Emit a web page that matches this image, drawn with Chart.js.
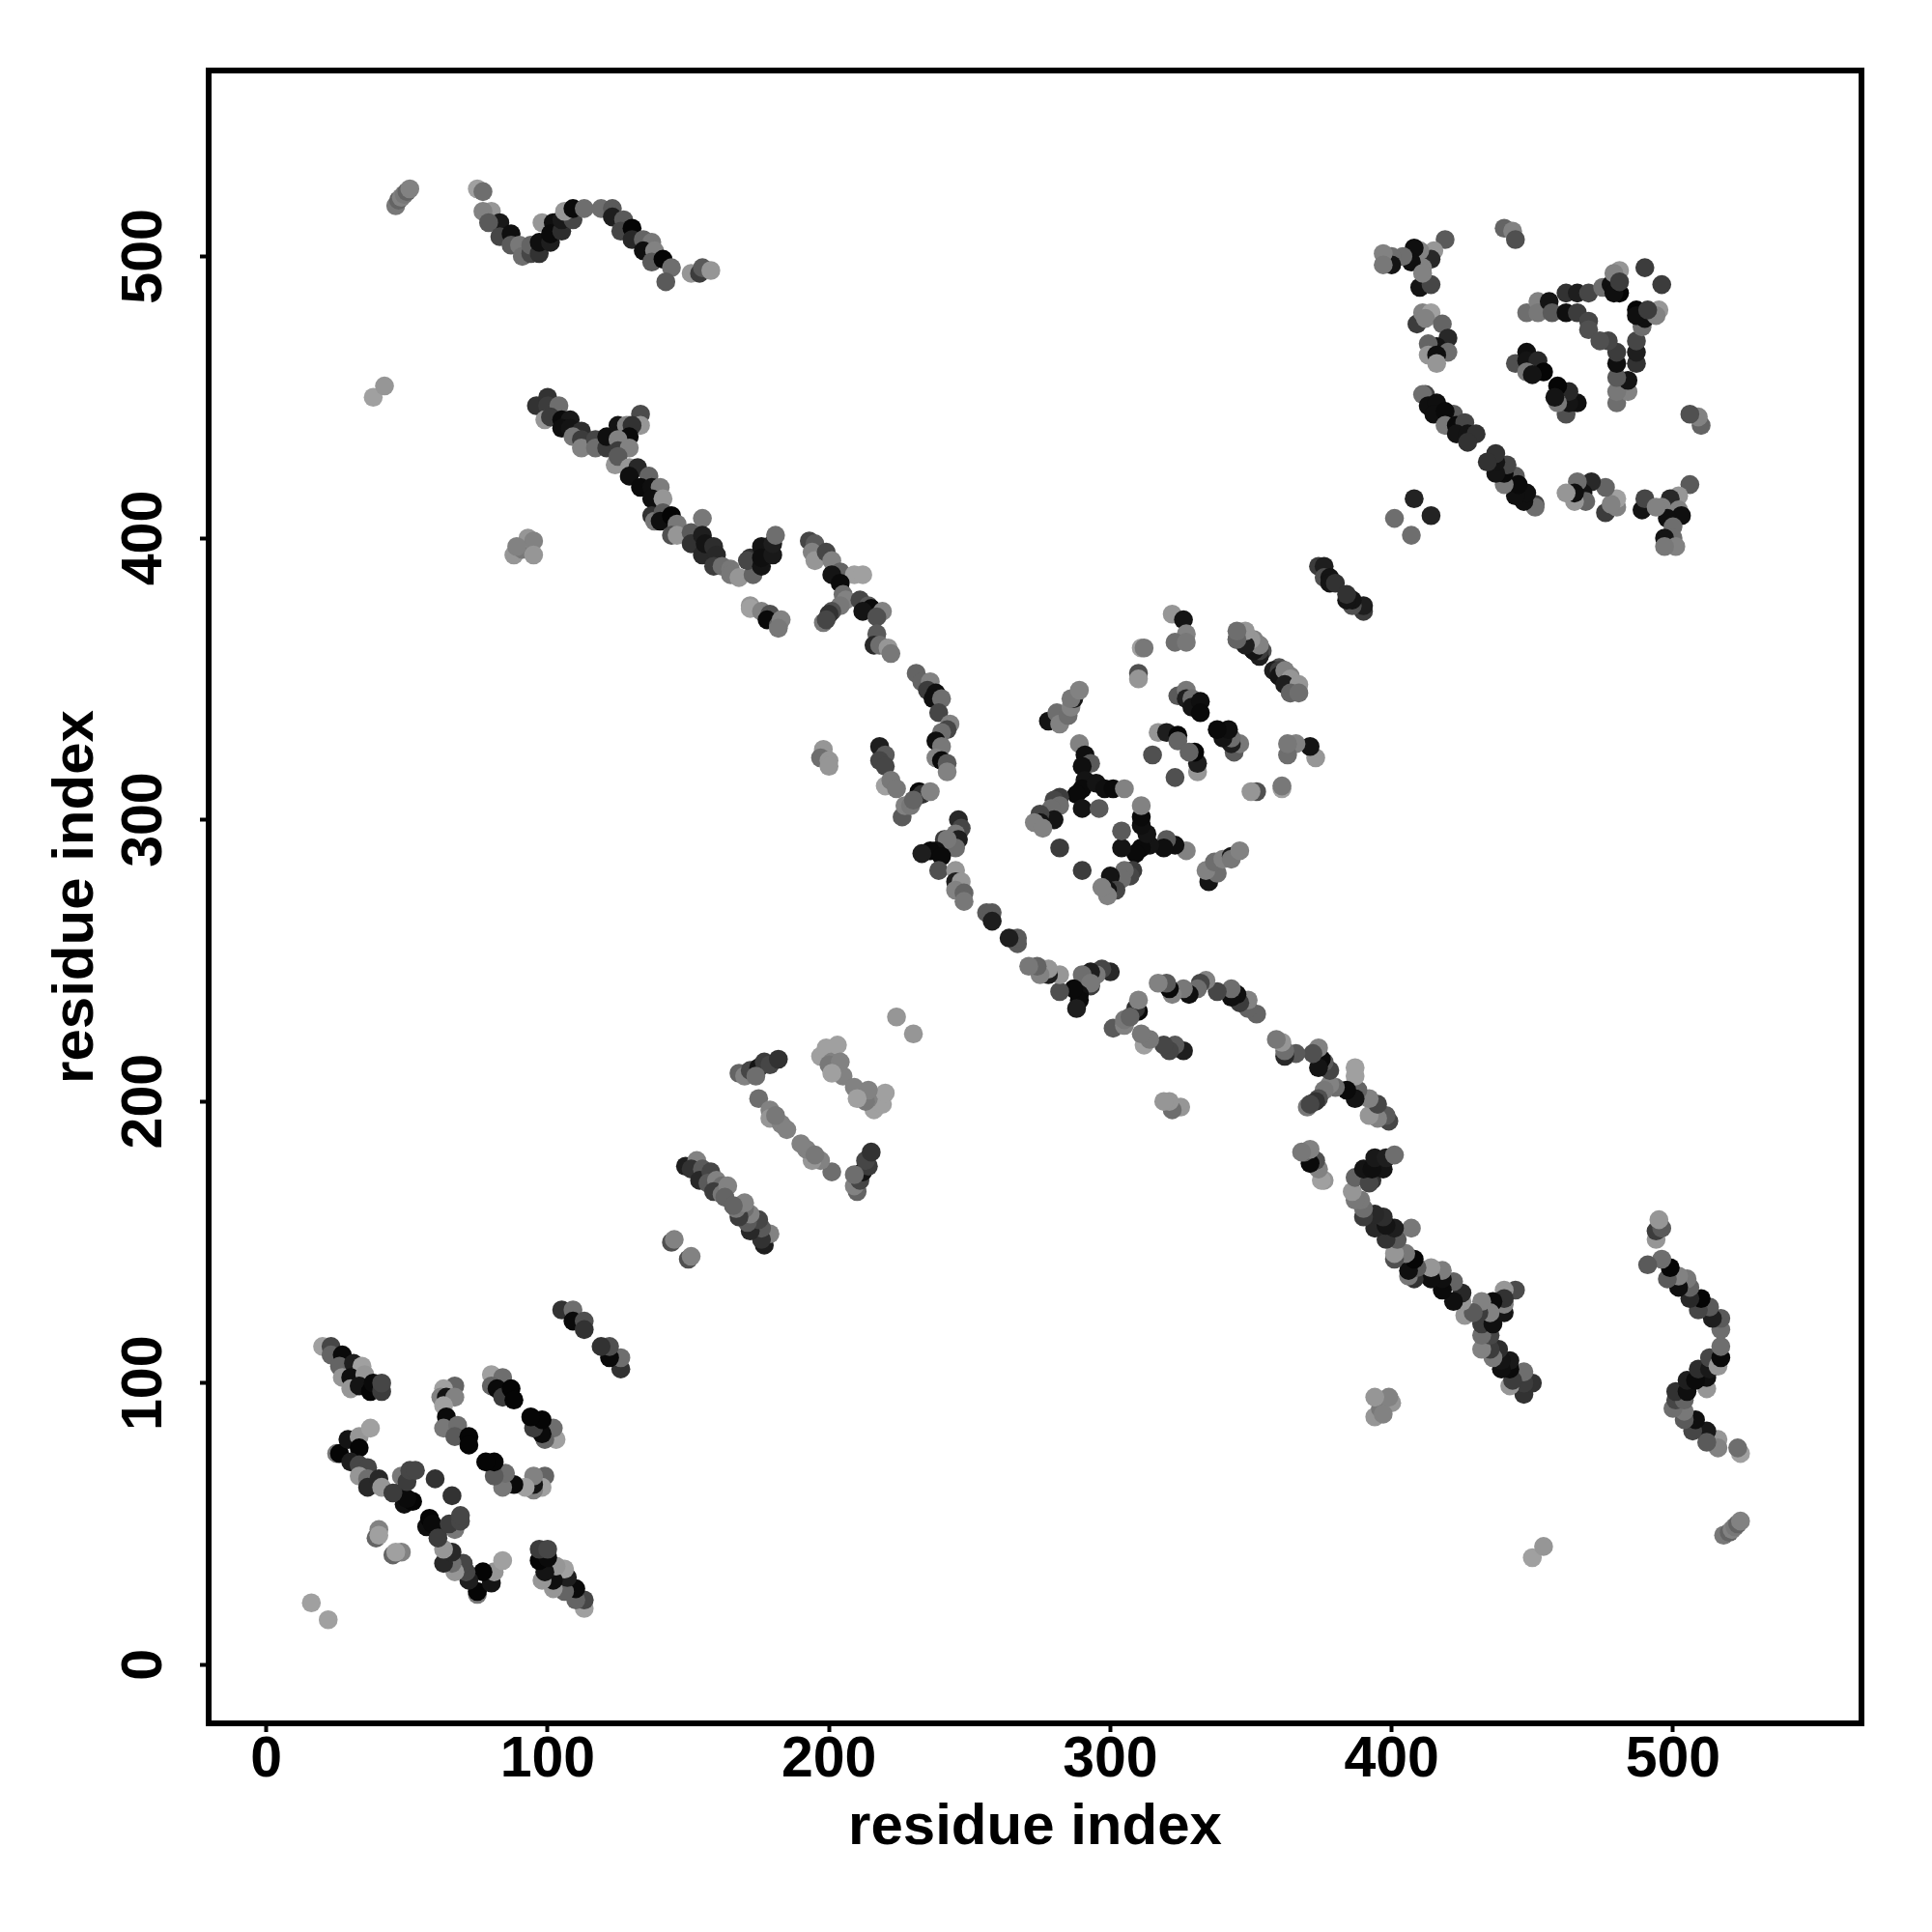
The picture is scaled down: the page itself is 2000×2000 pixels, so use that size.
<!DOCTYPE html>
<html>
<head>
<meta charset="utf-8">
<title>residue contacts</title>
<script src="https://cdn.jsdelivr.net/npm/chart.js@4"></script>
<style>
  html, body { margin: 0; padding: 0; background: #fff; }
  canvas { display: block; }
</style>
</head>
<body>
<canvas id="contactMap" width="2000" height="2000"></canvas>
<script>
// contacts, only the i < j half, the map is symmetric
// one line per patch, the three lists line up
const contactI = [
  16, 38, 42, 224,
  20, 23, 23, 27, 26, 27, 31, 34, 30, 30, 35, 33, 37, 38, 41, 41,
  67, 63, 62, 64, 67, 63, 64, 63, 68, 67, 72, 72,
  80, 84, 80, 82, 84, 87, 88,
  25, 26, 29, 33, 37, 33, 30, 33, 36, 33, 36, 36, 40, 41, 47, 49, 52, 50, 45, 48, 50, 51, 53, 60, 40, 39, 40,
  105, 109, 109, 113, 113, 144, 145,
  149, 153, 151, 155, 154, 158, 157, 160, 162, 159, 162, 164, 163,
  168, 170, 172, 175, 177, 179, 182, 174,
  175, 179, 179, 183, 185, 181,
  197, 199, 201, 203, 200, 203, 205, 204, 201,
  88, 91, 93, 95, 95, 89,
  46, 47, 48, 49, 50, 51,
  75, 77, 80, 77, 83, 79, 83, 87, 87, 90, 91, 94, 94, 97, 97, 101, 98, 102, 101, 105, 105, 109, 106, 109, 113,
  119, 123, 123, 127, 126, 130, 130, 134, 137, 134, 138, 137, 141, 144, 142, 151, 154, 155, 158,
  96, 100, 100, 104, 99, 101, 105, 108, 105, 108, 112, 109, 112, 112, 117, 117, 121, 121, 125, 128, 129, 133, 133, 130, 129, 125, 125, 129,
  124, 125, 129, 132, 129, 136, 133, 137, 140, 137, 141, 137, 138, 141, 140, 144, 146, 144, 146,
  151, 151, 155, 155, 155, 156, 159, 160, 159, 162, 165, 165, 168, 173, 172, 171, 176, 176, 176, 180, 180, 181,
  172, 172, 176, 179, 178, 182, 183, 182,
  193, 195, 194, 195, 199, 201, 204, 209, 212, 201, 204, 205, 206, 204, 201, 200, 198, 199, 211, 214, 215, 212, 219, 217, 217, 216, 218, 221, 222,
  231, 233, 236, 235, 238, 237, 240, 239, 243, 242, 240, 238, 240, 238, 240, 242, 242,
  218, 220, 218, 220, 220, 222, 224, 226, 227, 229, 232, 233, 236, 230,
  246, 247, 245, 246, 245, 241, 242, 238, 236, 233, 240, 239, 245, 245, 247, 245, 248, 248,
  256, 258, 258,
  198, 197, 200, 200,
  278, 281, 282, 285, 286, 287, 286, 289,
  322, 326, 327, 323, 327, 311, 312, 310, 310,
  324, 327, 327, 329, 329, 332, 332,
  346, 345, 348, 349, 351, 353, 351, 354, 353,
  360, 360, 362, 364, 362, 367, 364, 367,
  317, 320, 324, 324, 315,
  289, 291, 293, 290, 291, 290, 295, 298, 301, 305, 288, 282, 280, 282, 279, 280, 275, 275, 273, 276, 290, 296, 282,
  374, 376, 376, 378, 378, 380,
  401, 408,
  412, 411, 413, 416, 415, 422, 419, 419, 423, 426, 423, 427, 430, 427,
  419, 415, 414, 410, 408, 411, 407, 404, 400, 400, 397, 397, 410, 414, 411,
  409, 411, 414, 412, 418, 420, 416, 413, 413, 420, 416, 416,
  440, 443, 444,
  444, 448, 448, 452, 448, 454, 450,
  448, 452, 452, 456, 457, 462, 466, 470, 462, 466, 470, 470,
  475, 478, 481, 479, 481, 479, 481, 490
];
const contactJ = [
  22, 450, 454, 230,
  113, 113, 110, 110, 106, 102, 107, 106, 102, 98, 103, 99, 97, 100, 97, 100,
  99, 98, 95, 95, 95, 92, 88, 84, 85, 81, 81, 78,
  103, 102, 99, 98, 95, 98, 94,
  75, 75, 80, 81, 84, 77, 72, 71, 70, 67, 66, 63, 66, 63, 61, 57, 58, 59, 61, 67, 65, 69, 69, 66, 48, 45, 46,
  126, 126, 122, 122, 119, 150, 151,
  177, 179, 176, 176, 172, 175, 171, 172, 170, 168, 167, 170, 166,
  210, 209, 211, 212, 214, 213, 215, 209,
  201, 197, 194, 192, 190, 195,
  216, 219, 214, 220, 213, 211, 209, 214, 210,
  394, 396, 400, 399, 394, 397,
  518, 520, 521, 522, 523, 524,
  524, 523, 516, 516, 512, 512, 507, 508, 504, 504, 500, 501, 504, 501, 505, 505, 512, 512, 508, 509, 513, 513, 516, 517, 517,
  517, 517, 514, 513, 509, 510, 506, 506, 505, 502, 502, 498, 499, 496, 491, 494, 494, 496, 495,
  447, 450, 447, 447, 442, 443, 442, 442, 439, 439, 438, 436, 435, 432, 435, 432, 432, 436, 440, 440, 440, 444, 440, 440, 436, 435, 431, 432,
  426, 429, 425, 425, 422, 422, 418, 418, 418, 414, 414, 408, 406, 409, 406, 408, 405, 401, 401,
  402, 398, 407, 401, 394, 398, 397, 394, 390, 390, 389, 387, 386, 387, 393, 392, 390, 397, 393, 394, 398, 401,
  376, 375, 374, 373, 371, 369, 371, 368,
  399, 398, 395, 392, 395, 392, 388, 387, 387, 387, 384, 380, 378, 376, 374, 373, 370, 371, 378, 376, 375, 374, 374, 372, 366, 362, 362, 361, 359,
  352, 349, 349, 346, 345, 343, 343, 338, 334, 332, 331, 328, 326, 322, 321, 320, 317,
  326, 323, 321, 319, 312, 314, 311, 301, 305, 305, 310, 309, 310, 307,
  300, 297, 295, 293, 290, 293, 293, 289, 289, 288, 287, 282, 282, 278, 278, 275, 274, 271,
  267, 267, 264,
  325, 322, 321, 319,
  335, 338, 334, 337, 340, 343, 343, 346,
  373, 371, 366, 363, 363, 361, 361, 352, 350,
  344, 346, 343, 343, 340, 342, 338,
  366, 364, 366, 364, 364, 362, 360, 360, 358,
  353, 351, 353, 350, 348, 348, 345, 345,
  331, 331, 330, 328, 323,
  327, 323, 320, 319, 314, 311, 313, 311, 311, 311, 309, 308, 307, 305, 304, 300, 302, 299, 299, 297, 304, 304, 290,
  390, 390, 386, 386, 384, 384,
  407, 414,
  451, 451, 447, 448, 444, 444, 445, 440, 440, 441, 437, 437, 437, 434,
  506, 502, 499, 502, 503, 496, 498, 500, 500, 497, 501, 497, 489, 490, 494,
  476, 480, 480, 478, 476, 471, 468, 469, 465, 466, 465, 462,
  510, 509, 506,
  462, 466, 463, 463, 459, 459, 458,
  480, 484, 480, 484, 480, 487, 487, 487, 480, 480, 477, 474,
  489, 490, 495, 494, 487, 487, 491, 496
];
const contactGray = [
  160, 160, 150, 150,
  160, 70, 100, 10, 100, 150, 30, 160, 15, 150, 150, 20, 5, 10, 60, 70,
  100, 160, 130, 20, 130, 160, 10, 120, 110, 90, 5, 5,
  160, 110, 100, 10, 60, 5, 5,
  120, 5, 20, 150, 160, 5, 30, 70, 70, 150, 110, 40, 40, 150, 30, 15, 5, 10, 60, 120, 60, 70, 70, 50, 130, 100, 160,
  50, 110, 10, 80, 50, 80, 130,
  30, 130, 50, 90, 40, 70, 90, 130, 110, 60, 120, 130, 100,
  100, 130, 70, 20, 60, 70, 50, 110,
  110, 130, 150, 130, 130, 120,
  160, 160, 130, 160, 120, 130, 130, 130, 160,
  150, 120, 150, 130, 150, 130,
  120, 100, 130, 120, 100, 130,
  160, 110, 150, 130, 25, 90, 70, 15, 90, 120, 110, 70, 100, 50, 15, 30, 150, 15, 10, 45, 25, 70, 150, 10, 110,
  110, 90, 30, 90, 70, 5, 40, 100, 120, 15, 130, 90, 5, 110, 90, 150, 60, 90, 150,
  50, 50, 60, 110, 150, 60, 10, 25, 15, 20, 45, 120, 60, 130, 70, 110, 60, 15, 20, 130, 130, 75, 150, 50, 10, 130, 60, 130,
  150, 90, 150, 40, 15, 100, 10, 15, 125, 15, 150, 50, 120, 90, 15, 5, 120, 80, 150,
  90, 50, 120, 30, 40, 20, 45, 40, 60, 110, 120, 120, 150, 100, 50, 70, 20, 20, 15, 25, 30, 110,
  150, 160, 130, 80, 10, 100, 130, 120,
  70, 90, 130, 150, 70, 130, 100, 160, 160, 20, 10, 110, 130, 120, 80, 50, 120, 70, 70, 90, 10, 20, 130, 80, 90, 40, 110, 150, 120,
  100, 100, 130, 60, 15, 15, 110, 70, 130, 70, 110, 15, 120, 130, 10, 90, 130,
  30, 90, 70, 70, 160, 120, 120, 90, 130, 120, 10, 50, 130, 100,
  40, 70, 120, 30, 110, 60, 120, 15, 10, 30, 10, 80, 150, 30, 150, 130, 100, 120,
  90, 90, 30,
  150, 110, 150, 150,
  20, 110, 130, 110, 130, 25, 120, 130,
  150, 20, 130, 110, 120, 160, 120, 80, 150,
  90, 120, 30, 110, 20, 15, 10,
  110, 110, 110, 110, 130, 120, 20, 80, 30,
  60, 20, 130, 150, 30, 150, 100, 110,
  150, 30, 5, 100, 80,
  130, 15, 90, 15, 20, 10, 20, 15, 10, 130, 10, 60, 70, 110, 110, 20, 70, 20, 130, 130, 20, 90, 60,
  60, 30, 80, 20, 20, 50,
  110, 35,
  70, 110, 15, 15, 15, 90, 10, 120, 10, 70, 20, 20, 50, 50,
  90, 150, 40, 130, 15, 130, 15, 110, 110, 20, 130, 120, 20, 70, 130,
  60, 130, 160, 130, 100, 40, 20, 100, 150, 110, 15, 150,
  100, 130, 80,
  80, 15, 20, 40, 120, 5, 20,
  110, 130, 120, 20, 90, 50, 30, 70, 15, 60, 70, 80,
  110, 15, 150, 130, 5, 15, 60, 60
];
const axisTicks = [0, 100, 200, 300, 400, 500];
const axisLabel = 'residue index';

// each contact shows up twice, (i, j) and (j, i)
const points = [];
const pointColors = [];
for (let n = 0; n < contactI.length; n++) {
  const g = contactGray[n];
  const col = 'rgb(' + g + ',' + g + ',' + g + ')';
  points.push({x: contactI[n], y: contactJ[n]});
  pointColors.push(col);
  points.push({x: contactJ[n], y: contactI[n]});
  pointColors.push(col);
}

const frame = {
  id: 'frame',
  afterDraw(chart) {
    const a = chart.chartArea;
    const ctx = chart.ctx;
    ctx.save();
    ctx.strokeStyle = '#000';
    ctx.lineWidth = 6;
    ctx.strokeRect(a.left, a.top, a.right - a.left, a.bottom - a.top);
    ctx.restore();
  }
};

const tickFont = {family: '"Liberation Sans"', size: 59, weight: 'bold'};
const titleFont = {family: '"Liberation Sans"', size: 60, weight: 'bold'};

function setTicks(scale) {
  scale.ticks = axisTicks.map(v => ({value: v}));
}

new Chart(document.getElementById('contactMap').getContext('2d'), {
  type: 'scatter',
  plugins: [frame],
  data: {
    datasets: [{
      data: points,
      backgroundColor: pointColors,
      borderWidth: 0,
      pointRadius: 9.8,
      pointHoverRadius: 9.8
    }]
  },
  options: {
    responsive: false,
    animation: false,
    layout: {padding: {top: 73, right: 73, bottom: 0, left: 0}},
    plugins: {legend: {display: false}, tooltip: {enabled: false}},
    scales: {
      x: {
        type: 'linear',
        min: -20.5,
        max: 567,
        afterBuildTicks: setTicks,
        afterFit(scale) { scale.height = 216; },
        border: {display: false},
        grid: {drawOnChartArea: false, tickLength: 9, tickWidth: 4, tickColor: '#000'},
        ticks: {color: '#000', font: tickFont, padding: -6, maxRotation: 0},
        title: {display: true, text: axisLabel, color: '#000', font: titleFont, padding: {top: 0, bottom: 72}}
      },
      y: {
        type: 'linear',
        min: -20.8,
        max: 566,
        afterBuildTicks: setTicks,
        afterFit(scale) { scale.width = 216; },
        border: {display: false},
        grid: {drawOnChartArea: false, tickLength: 9, tickWidth: 4, tickColor: '#000'},
        ticks: {color: '#000', font: tickFont, padding: 7.5, minRotation: 90, maxRotation: 90, crossAlign: 'center'},
        title: {display: true, text: axisLabel, color: '#000', font: titleFont, padding: {top: 43, bottom: 0}}
      }
    }
  }
});
</script>
</body>
</html>
